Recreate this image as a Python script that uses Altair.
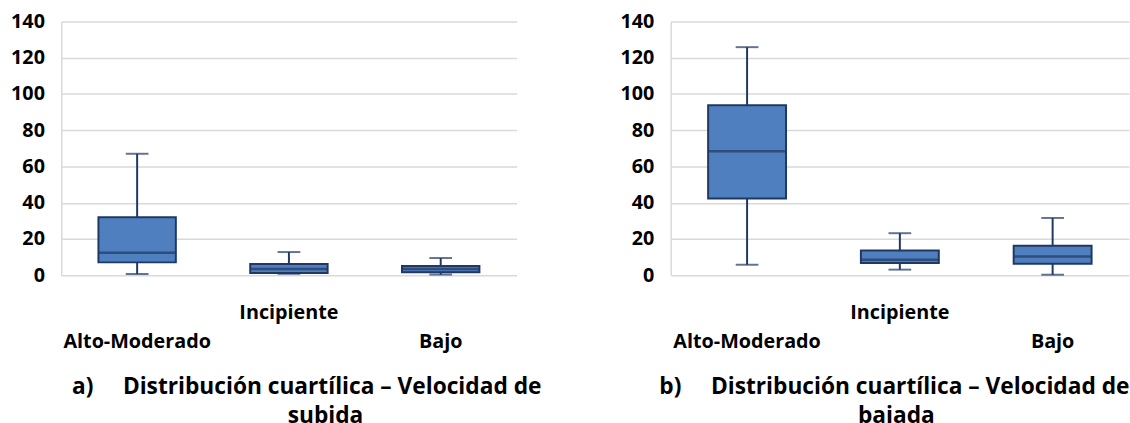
import altair as alt
import pandas as pd

# Categories along the x axis
categories = ["Alto-Moderado", "Incipiente", "Bajo"]

# a) Velocidad de subida: quartile summary per category
subida_min = [0.7, 0.8, 0.4]
subida_q1 = [7.1, 1.2, 1.6]
subida_med = [12.4, 3.5, 3.4]
subida_q3 = [32.0, 6.2, 5.1]
subida_max = [67.0, 12.8, 9.5]

# b) Velocidad de bajada: quartile summary per category
bajada_min = [5.8, 3.1, 0.3]
bajada_q1 = [42.3, 6.7, 6.3]
bajada_med = [68.4, 8.5, 10.3]
bajada_q3 = [93.8, 13.6, 16.3]
bajada_max = [125.8, 23.2, 31.6]

y_ticks = [0, 20, 40, 60, 80, 100, 120, 140]

FILL = "#4F7FBE"
LINE = "#1F3864"
GRID = "#D9D9D9"
FONT = "Open Sans"
NBSP = "\u00a0"


def panel(caption, caption_end, mins, q1s, meds, q3s, maxs, width,
          caption_x, end_dx, x_range=None):
    df = pd.DataFrame({
        "cat": categories,
        "min": mins, "q1": q1s, "med": meds, "q3": q3s, "max": maxs,
    })
    scale_args = dict(domain=categories, paddingInner=0, paddingOuter=0)
    if x_range is not None:
        scale_args["range"] = x_range
    x = alt.X(
        "cat:N",
        scale=alt.Scale(**scale_args),
        sort=categories,
        axis=alt.Axis(
            # first caption line sits under the category labels
            title=caption,
            titleFont=FONT,
            titleFontWeight="bold",
            titleFontSize=23,
            titleColor="#000000",
            titlePadding=25,
            titleX=caption_x,
            titleAlign="center",
            domain=False,
            ticks=False,
            labelAngle=0,
            labelFont=FONT,
            labelFontWeight="bold",
            labelFontSize=20,
            labelColor="#000000",
            labelPadding=28,
            labelLineHeight=29,
            labelOverlap=False,
            # staggered category labels: the middle one sits on the upper row
            labelExpr="datum.value == 'Incipiente' ? datum.value : ['', datum.value]",
        ),
    )
    y_scale = alt.Scale(domain=[0, 140], nice=False, zero=True)
    y_axis = alt.Axis(
        title=None,
        values=y_ticks,
        domain=True,
        domainColor=GRID,
        domainWidth=1.5,
        ticks=False,
        grid=True,
        gridColor=GRID,
        gridWidth=1.5,
        labelFont=FONT,
        labelFontWeight="bold",
        labelFontSize=20,
        labelColor="#000000",
        labelPadding=17,
        labelOverlap=False,
    )

    def yq(field):
        return alt.Y(field, type="quantitative", scale=y_scale, axis=y_axis)

    base = alt.Chart(df)
    whisker = base.mark_rule(color=LINE, strokeWidth=2).encode(
        x=x, y=yq("min"), y2="max:Q"
    )
    box = base.mark_bar(
        width=alt.RelativeBandSize(band=0.51),
        fill=FILL,
        stroke=LINE,
        strokeWidth=2,
    ).encode(x=x, y=yq("q1"), y2="q3:Q")
    median = base.mark_tick(color=LINE, size=78, thickness=2.5).encode(
        x=x, y=yq("med")
    )
    cap_lo = base.mark_tick(color=LINE, size=23, thickness=2).encode(
        x=x, y=yq("min")
    )
    cap_hi = base.mark_tick(color=LINE, size=23, thickness=2).encode(
        x=x, y=yq("max")
    )

    return alt.layer(whisker, box, median, cap_lo, cap_hi).properties(
        width=width,
        height=257,
        title=alt.TitleParams(
            text=caption_end,
            orient="bottom",
            anchor="middle",
            font=FONT,
            fontWeight="bold",
            fontSize=23,
            color="#000000",
            offset=7,
            dx=end_dx,
        ),
    )


left = panel(
    "a)" + NBSP * 5 + "Distribución cuartílica – Velocidad de", "subida",
    subida_min, subida_q1, subida_med, subida_q3, subida_max,
    width=461, caption_x=248, end_dx=37,
)
right = panel(
    "b)" + NBSP * 5 + "Distribución cuartílica – Velocidad de", "bajada",
    bajada_min, bajada_q1, bajada_med, bajada_q3, bajada_max,
    width=451, caption_x=226, end_dx=3, x_range=[0, 464],
)

chart = (
    alt.hconcat(left, right, spacing=156, bounds="flush")
    .properties(padding={"left": 10, "top": 9, "right": 0, "bottom": 0}, background="white")
    .configure_view(stroke=None)
)

chart.save("out.html", embed_options={"renderer": "svg", "actions": False})
